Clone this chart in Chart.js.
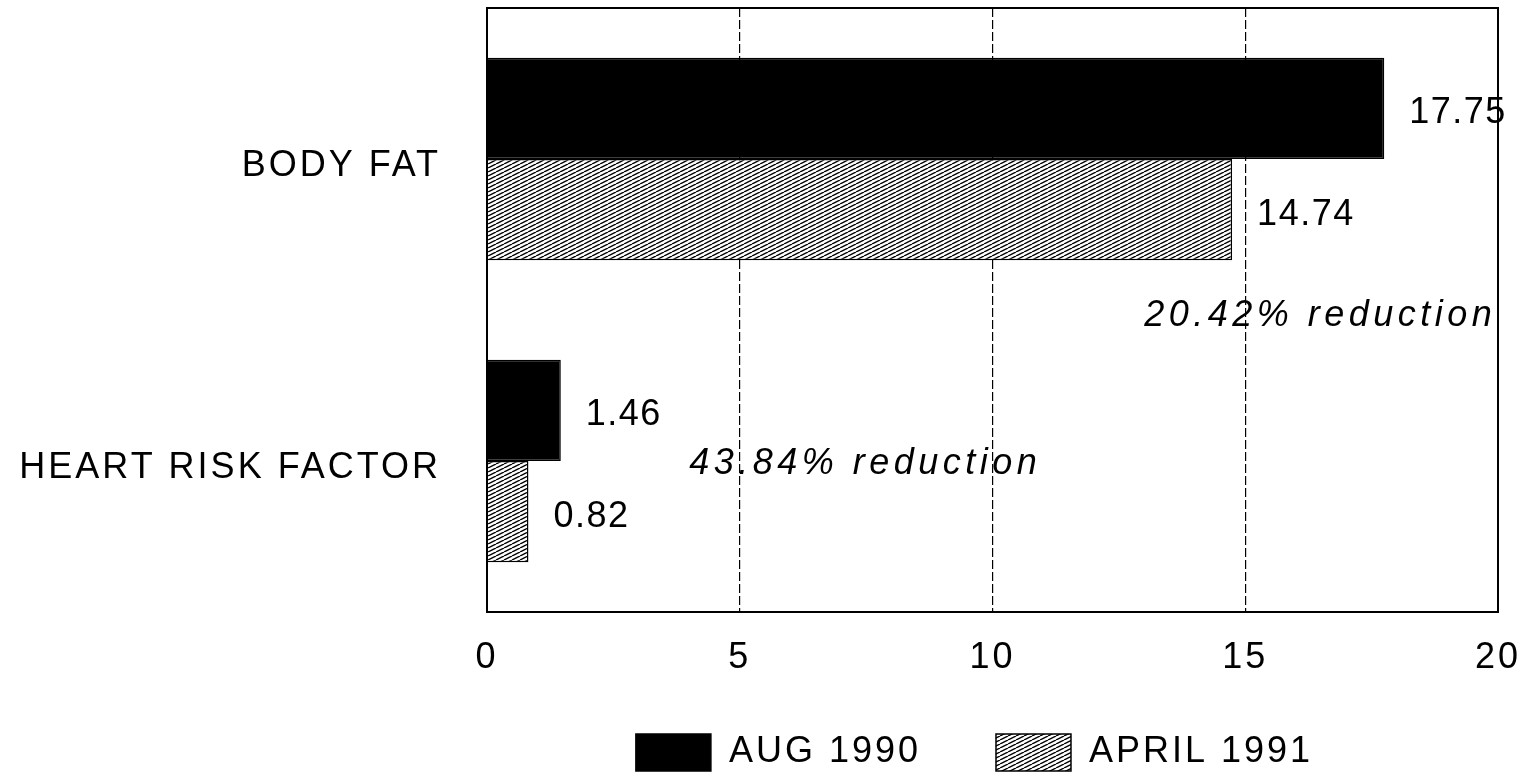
<!DOCTYPE html>
<html>
<head>
<meta charset="utf-8">
<script src="https://cdn.jsdelivr.net/npm/chart.js@4"></script>
<style>
    body { margin: 0; background: #fff; }
    #wrap { width: 1533px; height: 778px; }
</style>
</head>
<body>
<div id="wrap"><canvas id="myChart" width="1533" height="778"></canvas></div>
<script>
const categories = ['BODY FAT', 'HEART RISK FACTOR'];
const seriesNames = ['AUG 1990', 'APRIL 1991'];
const aug1990 = [17.75, 1.46];
const april1991 = [14.74, 0.82];
const reductionNotes = ['20.42% reduction', '43.84% reduction'];
const xMin = 0, xMax = 20, xStep = 5;

const FONT = "'Liberation Sans', Arial, sans-serif";

// diagonal hatch used for the second series
makeHatch = () => {
    let c = document.createElement('canvas');
    c.width = 8;
    c.height = 4;
    let g = c.getContext('2d');
    g.fillStyle = '#fff';
    g.fillRect(0, 0, 8, 4);
    g.strokeStyle = '#000';
    g.lineWidth = 1.4;
    for (let dx of [-8, 0, 8]) {
        g.beginPath();
        g.moveTo(dx, 4);
        g.lineTo(dx + 8, 0);
        g.stroke();
    }
    return g.createPattern(c, 'repeat');
}

let hatch = makeHatch();

// wider tracking for all the chart's text
let spacing = {
    id: 'spacing',
    beforeUpdate(chart) { chart.ctx.letterSpacing = '3px'; },
    beforeDraw(chart) { chart.ctx.letterSpacing = '3px'; }
};

// x tick labels hang below the axis box, so open up its clip area;
// nudge the legend a little to the left
let tweakLayout = {
    id: 'tweakLayout',
    afterLayout(chart) {
        chart.scales.x.bottom = chart.scales.x.top + 90;
        chart.legend.left -= 18;
        chart.legend.right -= 18;
        chart.legend.top += 3;
        chart.legend.bottom += 3;
    }
};

// value next to each bar, reduction notes, and the frame round the plot
let extras = {
    id: 'extras',
    afterDatasetsDraw(chart) {
        let ctx = chart.ctx;
        ctx.save();
        ctx.fillStyle = '#000';
        ctx.textAlign = 'left';
        ctx.textBaseline = 'middle';
        ctx.font = '36px ' + FONT;
        ctx.letterSpacing = '1.5px';
        chart.data.datasets.forEach((ds, di) => {
            chart.getDatasetMeta(di).data.forEach((bar, i) => {
                ctx.fillText(ds.data[i].toFixed(2), bar.x + 25, bar.y + 5);
            });
        });

        let xs = chart.scales.x, ys = chart.scales.y;
        ctx.font = 'italic 36px ' + FONT;
        ctx.letterSpacing = '4.5px';
        ctx.fillText(reductionNotes[0], xs.getPixelForValue(13), ys.getPixelForValue(0.5) + 6);
        ctx.fillText(reductionNotes[1], xs.getPixelForValue(4), ys.getPixelForValue(1) + 3);

        let a = chart.chartArea;
        ctx.strokeStyle = '#000';
        ctx.lineWidth = 2;
        ctx.strokeRect(a.left, a.top, a.right - a.left, a.bottom - a.top);
        ctx.restore();
    }
};

let ctx = document.getElementById('myChart').getContext('2d');
let myChart = new Chart(ctx, {
    type: 'bar',
    data: {
        labels: categories,
        datasets: [{
            label: seriesNames[0],
            data: aug1990,
            backgroundColor: '#000',
            borderColor: '#000',
            borderWidth: 1.5
        }, {
            label: seriesNames[1],
            data: april1991,
            backgroundColor: hatch,
            borderColor: '#000',
            borderWidth: 1.5
        }]
    },
    options: {
        indexAxis: 'y',
        responsive: false,
        animation: false,
        categoryPercentage: 0.67,
        barPercentage: 1.0,
        layout: {
            padding: { left: 0, right: 35, top: 8, bottom: 0 }
        },
        scales: {
            x: {
                min: xMin,
                max: xMax,
                afterFit: (scale) => {
                    scale.height = 44;
                    scale.paddingLeft = 0;
                    scale.paddingRight = 0;
                },
                ticks: {
                    stepSize: xStep,
                    color: '#000',
                    padding: 24,
                    font: { family: FONT, size: 36 }
                },
                grid: {
                    color: '#000',
                    lineWidth: 1.2,
                    drawTicks: false
                },
                border: { display: true, color: '#000', width: 2, dash: [9, 3] }
            },
            y: {
                afterFit: (scale) => {
                    scale.width = 487;
                    scale.paddingTop = 0;
                    scale.paddingBottom = 0;
                },
                ticks: {
                    color: '#000',
                    padding: 46,
                    labelOffset: 7,
                    font: { family: FONT, size: 36 }
                },
                grid: { display: false, drawTicks: false },
                border: { display: true, color: '#000', width: 2 }
            }
        },
        plugins: {
            legend: {
                position: 'bottom',
                fullSize: false,
                labels: {
                    color: '#000',
                    boxWidth: 75,
                    boxHeight: 37,
                    padding: 75,
                    font: { family: FONT, size: 36 }
                }
            },
            tooltip: { enabled: false }
        }
    },
    plugins: [spacing, tweakLayout, extras]
});
</script>
</body>
</html>
